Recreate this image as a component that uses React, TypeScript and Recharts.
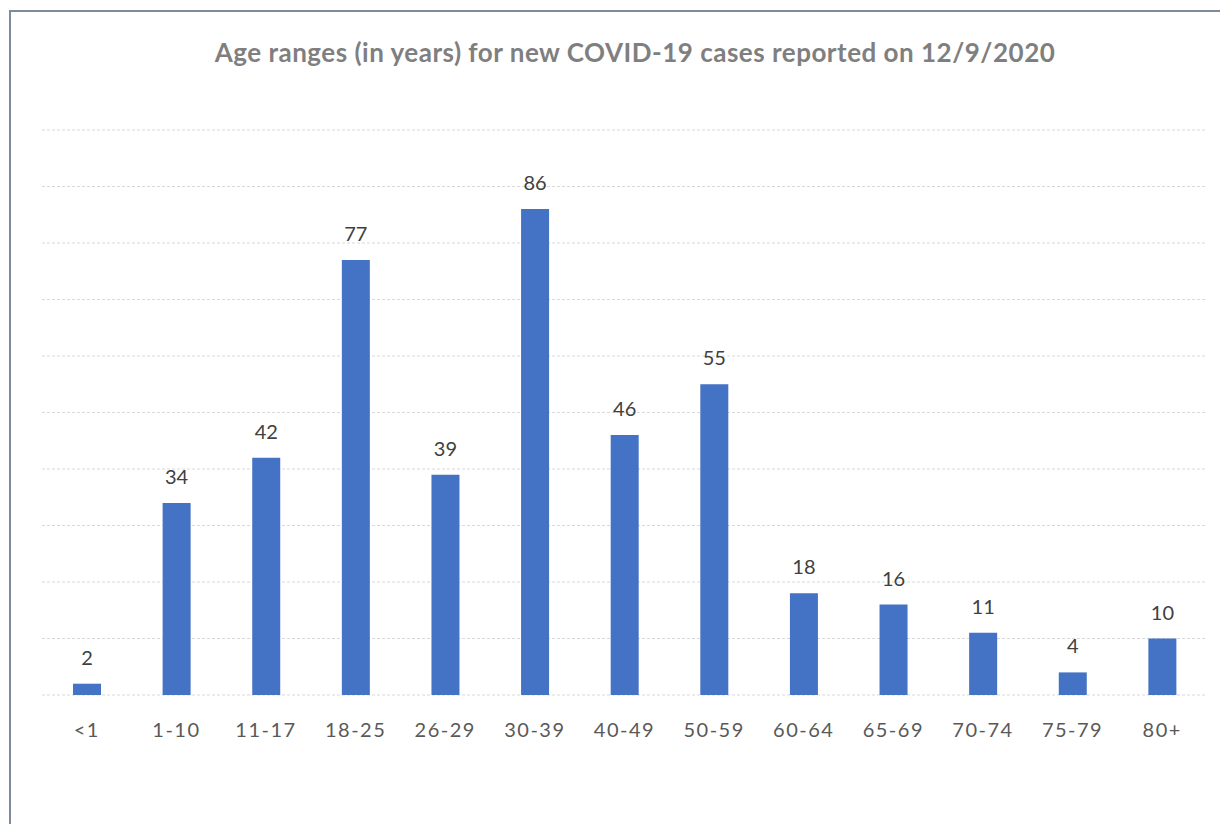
import { BarChart, Bar, XAxis, YAxis, CartesianGrid, LabelList } from 'recharts'

const ageRanges = ['<1', '1-10', '11-17', '18-25', '26-29', '30-39', '40-49', '50-59', '60-64', '65-69', '70-74', '75-79', '80+']
const newCases = [2, 34, 42, 77, 39, 86, 46, 55, 18, 16, 11, 4, 10]
const yTicks = [0, 10, 20, 30, 40, 50, 60, 70, 80, 90, 100]

const FONT = 'Lato, "Open Sans", sans-serif'

export default function App() {
  const data = ageRanges.map((range, i) => ({ range, cases: newCases[i] }))

  return (
    <div style={{ position: 'relative', width: 1228, height: 832, margin: -8, overflow: 'hidden', background: '#fff', fontFamily: FONT }}>
      {/* chart border, runs off the right and bottom edge */}
      <div
        style={{
          position: 'absolute',
          left: 9,
          top: 10,
          width: 1240,
          height: 840,
          border: '2px solid #7f8a9c',
          boxSizing: 'border-box',
        }}
      />
      <div
        style={{
          position: 'absolute',
          left: 0,
          top: 36,
          width: 1270,
          textAlign: 'center',
          fontSize: 26,
          letterSpacing: 0.5,
          fontWeight: 700,
          color: '#7f7f7f',
        }}
      >
        Age ranges (in years) for new COVID-19 cases reported on 12/9/2020
      </div>
      <div style={{ position: 'absolute', left: 0, top: 0 }}>
        <BarChart width={1228} height={832} data={data} margin={{ top: 130, right: 21, left: 42, bottom: 77 }}>
          <CartesianGrid vertical={false} stroke="#d9d9d9" strokeDasharray="3 2" />
          <YAxis hide domain={[0, 100]} ticks={yTicks} />
          <XAxis
            dataKey="range"
            axisLine={false}
            tickLine={false}
            tickSize={0}
            tickMargin={28}
            height={60}
            interval={0}
            tick={{ fill: '#595959', fontSize: 20, fontFamily: FONT, letterSpacing: 1.5 }}
          />
          <Bar dataKey="cases" fill="#4472c4" barSize={28} isAnimationActive={false}>
            <LabelList dataKey="cases" position="top" offset={19} fill="#404040" fontSize={20} fontFamily={FONT} />
          </Bar>
        </BarChart>
      </div>
    </div>
  )
}
